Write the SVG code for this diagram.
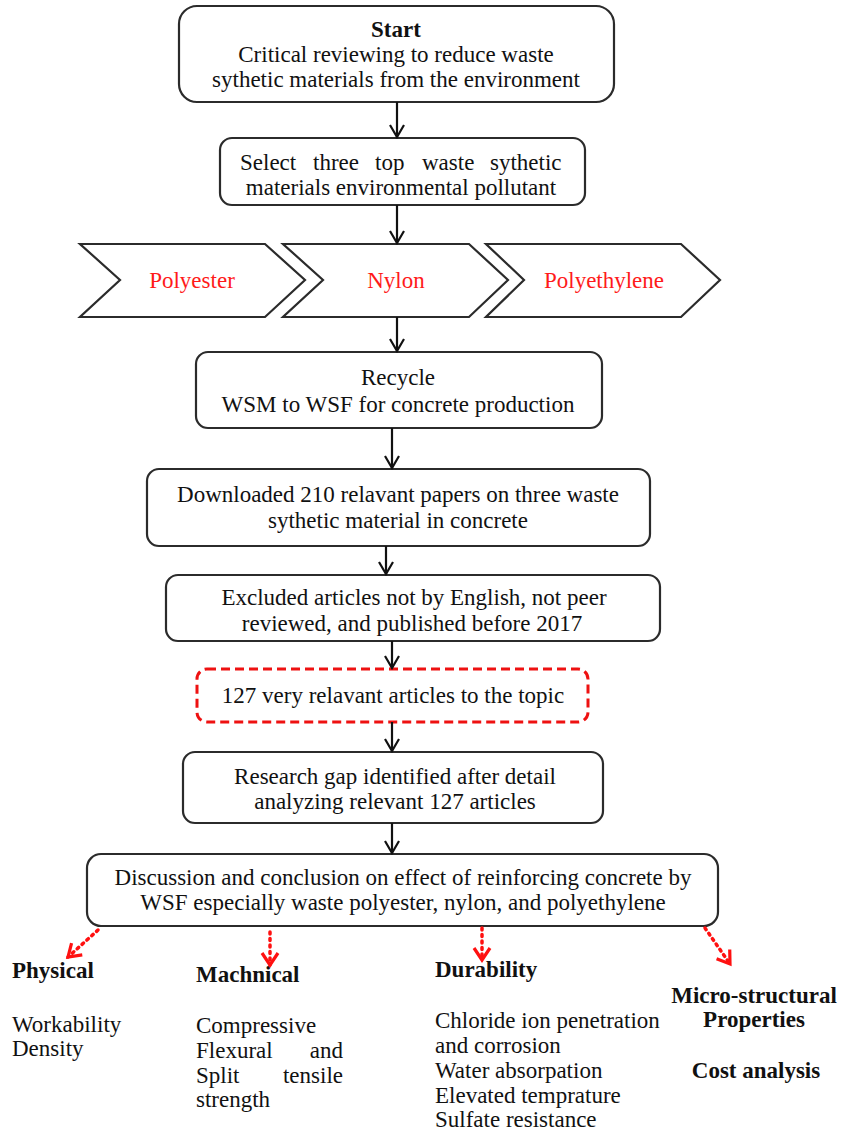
<svg xmlns="http://www.w3.org/2000/svg" width="844" height="1136" viewBox="0 0 844 1136">
<style>
.box{fill:#fff;stroke:#2b2b2b;stroke-width:2.2}
.t{font-family:"Liberation Serif","Times New Roman",serif;font-size:23px;fill:#111}
.c{text-anchor:middle}
.b{font-weight:bold}
.r{fill:#ff1a1a}
.con{fill:none;stroke:#111;stroke-width:2.2}
.dot{fill:none;stroke:#ff1010;stroke-width:3.5;stroke-dasharray:2 4.5;stroke-linecap:round}
</style>
<defs>
<marker id="ah" viewBox="-14 -9 16 18" refX="0" refY="0" markerWidth="16" markerHeight="18" markerUnits="userSpaceOnUse" orient="auto">
<path d="M-12,-7 L0,0 L-12,7" fill="none" stroke="#111" stroke-width="2.2"/>
</marker>
<marker id="rh" viewBox="-16 -11 19 22" refX="0" refY="0" markerWidth="19" markerHeight="22" markerUnits="userSpaceOnUse" orient="auto">
<path d="M-12,-8 L0,0 L-12,8" fill="none" stroke="#ff1010" stroke-width="3.2"/>
</marker>
</defs>
<rect width="844" height="1136" fill="#fff"/>

<g id="start">
<rect class="box" x="179" y="6" width="435" height="96" rx="18"/>
<text class="t c b" x="396" y="37">Start</text>
<text class="t c" x="396" y="62">Critical reviewing to reduce waste</text>
<text class="t c" x="396" y="87">sythetic materials from the environment</text>
</g>

<g id="select">
<rect class="box" x="220" y="138" width="365" height="67" rx="12"/>
<text class="t" y="170"><tspan x="240">Select</tspan><tspan x="313">three</tspan><tspan x="375">top</tspan><tspan x="422">waste</tspan><tspan x="490">sythetic</tspan></text>
<text class="t c" x="401" y="195">materials environmental pollutant</text>
</g>

<g id="polyester">
<polygon class="box" points="80,244 265,244 305,280 265,317 80,317 120,280"/>
<text class="t c r" x="192" y="288">Polyester</text>
</g>
<g id="nylon">
<polygon class="box" points="283,244 469,244 508,280 469,317 283,317 323,280"/>
<text class="t c r" x="396" y="288">Nylon</text>
</g>
<g id="polyethylene">
<polygon class="box" points="486,244 681,244 720,280 681,317 486,317 524,280"/>
<text class="t c r" x="604" y="288">Polyethylene</text>
</g>

<g id="recycle">
<rect class="box" x="196" y="352" width="406" height="76" rx="12"/>
<text class="t c" x="398" y="385">Recycle</text>
<text class="t c" x="398" y="412">WSM to WSF for concrete production</text>
</g>

<g id="downloaded">
<rect class="box" x="147" y="469" width="503" height="77" rx="12"/>
<text class="t c" x="398" y="502">Downloaded 210 relavant papers on three waste</text>
<text class="t c" x="398" y="528">sythetic material in concrete</text>
</g>

<g id="excluded">
<rect class="box" x="166" y="575" width="494" height="66" rx="12"/>
<text class="t c" x="414" y="605">Excluded articles not by English, not peer</text>
<text class="t c" x="412" y="631">reviewed, and published before 2017</text>
</g>

<g id="relevant">
<rect x="197" y="669" width="391" height="53" rx="10" fill="#fff" stroke="#ee1111" stroke-width="3" stroke-dasharray="9 5"/>
<text class="t c" x="393" y="703">127 very relavant articles to the topic</text>
</g>

<g id="gap">
<rect class="box" x="183" y="752" width="420" height="71" rx="12"/>
<text class="t c" x="395" y="784">Research gap identified after detail</text>
<text class="t c" x="395" y="809">analyzing relevant 127 articles</text>
</g>

<g id="discussion">
<rect class="box" x="87" y="854" width="631" height="72" rx="14"/>
<text class="t c" x="403" y="885">Discussion and conclusion on effect of reinforcing concrete by</text>
<text class="t c" x="403" y="910">WSF especially waste polyester, nylon, and polyethylene</text>
</g>

<g id="physical">
<text class="t b" x="12" y="978">Physical</text>
<text class="t" x="12" y="1032">Workability</text>
<text class="t" x="12" y="1056">Density</text>
</g>

<g id="mechanical">
<text class="t b" x="196" y="982">Machnical</text>
<text class="t" x="196" y="1033">Compressive</text>
<text class="t" x="196" y="1058">Flexural</text>
<text class="t" x="343" y="1058" text-anchor="end">and</text>
<text class="t" x="196" y="1083">Split</text>
<text class="t" x="343" y="1083" text-anchor="end">tensile</text>
<text class="t" x="196" y="1107">strength</text>
</g>

<g id="durability">
<text class="t b" x="435" y="977">Durability</text>
<text class="t" x="435" y="1028">Chloride ion penetration</text>
<text class="t" x="435" y="1053">and corrosion</text>
<text class="t" x="435" y="1078">Water absorpation</text>
<text class="t" x="435" y="1103">Elevated temprature</text>
<text class="t" x="435" y="1127">Sulfate resistance</text>
</g>

<g id="micro">
<text class="t c b" x="754" y="1003">Micro-structural</text>
<text class="t c b" x="754" y="1027">Properties</text>
<text class="t c b" x="756" y="1078">Cost analysis</text>
</g>

<g id="connectors">
<path class="con" marker-end="url(#ah)" d="M397,102 L397,137"/>
<path class="con" marker-end="url(#ah)" d="M397,205 L397,243"/>
<path class="con" marker-end="url(#ah)" d="M397,317 L397,351"/>
<path class="con" marker-end="url(#ah)" d="M392,428 L392,468"/>
<path class="con" marker-end="url(#ah)" d="M386,546 L386,574"/>
<path class="con" marker-end="url(#ah)" d="M392,641 L392,668"/>
<path class="con" marker-end="url(#ah)" d="M392,722 L392,751"/>
<path class="con" marker-end="url(#ah)" d="M392,823 L392,853"/>
<path class="dot" marker-end="url(#rh)" d="M98,930 L68,957"/>
<path class="dot" marker-end="url(#rh)" d="M270,932 L270,965"/>
<path class="dot" marker-end="url(#rh)" d="M482,928 L482,960"/>
<path class="dot" marker-end="url(#rh)" d="M705,928 L730,964"/>
</g>
</svg>
